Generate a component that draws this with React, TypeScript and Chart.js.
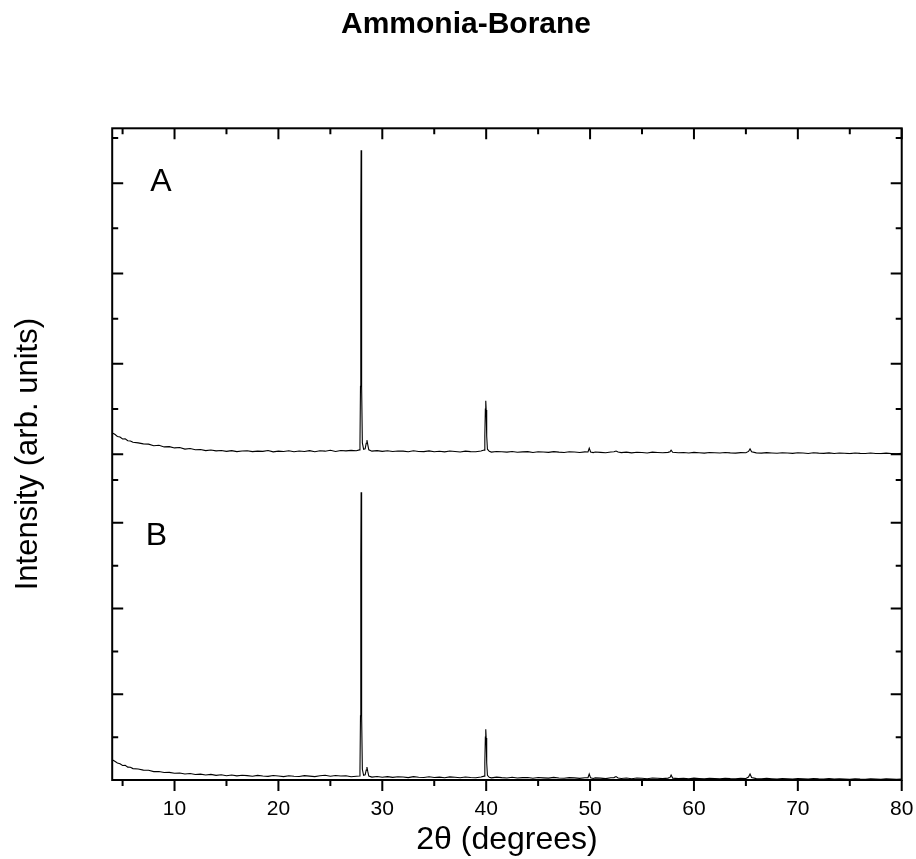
import React, { useEffect, useRef } from "react";
import { Chart, registerables } from "chart.js";

Chart.register(...registerables);

// 2θ angles (degrees) shared by both patterns
const twoTheta = [
  4.0, 4.25, 4.5, 4.75, 5.0, 5.25, 5.5, 5.75, 6.0, 6.5,
  7.0, 7.5, 8.0, 8.5, 9.0, 9.5, 10.0, 10.5, 11.0, 11.5,
  12.0, 12.5, 13.0, 13.5, 14.0, 14.5, 15.0, 15.5, 16.0, 16.5,
  17.0, 17.5, 18.0, 18.5, 19.0, 19.5, 20.0, 20.5, 21.0, 21.5,
  22.0, 22.5, 23.0, 23.5, 24.0, 24.5, 25.0, 25.5, 26.0, 26.5,
  27.0, 27.5, 27.8, 27.85, 27.9, 27.93, 27.96, 27.99, 28.03, 28.08,
  28.2, 28.35, 28.45, 28.52, 28.6, 28.7, 29.0, 29.5, 30.0, 30.5,
  31.0, 31.5, 32.0, 32.5, 33.0, 33.5, 34.0, 34.5, 35.0, 35.5,
  36.0, 36.5, 37.0, 37.5, 38.0, 38.5, 39.0, 39.5, 39.8, 39.87,
  39.92, 39.96, 40.0, 40.05, 40.12, 40.3, 40.5, 41.0, 41.5, 42.0,
  42.5, 43.0, 43.5, 44.0, 44.5, 45.0, 45.5, 46.0, 46.5, 47.0,
  47.5, 48.0, 48.5, 49.0, 49.5, 49.8, 49.92, 50.05, 50.3, 50.5,
  51.0, 51.5, 52.0, 52.3, 52.5, 52.7, 53.0, 53.5, 54.0, 54.5,
  55.0, 55.5, 56.0, 56.5, 57.0, 57.5, 57.7, 57.8, 57.95, 58.5,
  59.0, 59.5, 60.0, 60.5, 61.0, 61.5, 62.0, 62.5, 63.0, 63.5,
  64.0, 64.5, 65.0, 65.25, 65.4, 65.55, 66.0, 66.5, 67.0, 67.5,
  68.0, 68.5, 69.0, 69.5, 70.0, 70.5, 71.0, 71.5, 72.0, 72.5,
  73.0, 73.5, 74.0, 74.5, 75.0, 75.5, 76.0, 76.5, 77.0, 77.5,
  78.0, 78.5, 79.0, 79.5, 80.0,
];

// Pattern A (upper panel), arbitrary units
const intensityA = [
  470, 440, 392, 380, 335, 340, 298, 292, 262, 250,
  228, 222, 186, 196, 160, 166, 138, 146, 112, 126,
  96, 104, 78, 92, 72, 80, 62, 78, 56, 70,
  74, 56, 68, 62, 80, 50, 66, 58, 76, 52,
  70, 60, 78, 52, 74, 66, 86, 58, 80, 72,
  84, 76, 95, 200, 1500, 5200, 6726, 5200, 1500, 250,
  110, 120, 240, 310, 210, 95, 66, 78, 62, 74,
  58, 70, 66, 52, 74, 60, 56, 72, 54, 64,
  50, 70, 60, 48, 66, 56, 52, 68, 90, 420,
  1000, 1180, 980, 400, 110, 62, 46, 60, 52, 44,
  58, 42, 50, 56, 38, 52, 46, 40, 56, 44,
  38, 52, 46, 36, 50, 48, 133, 48, 34, 46,
  40, 30, 48, 52, 70, 46, 34, 44, 28, 42,
  36, 26, 44, 38, 30, 40, 55, 88, 40, 30,
  36, 26, 40, 30, 22, 36, 32, 24, 38, 28,
  22, 34, 30, 60, 117, 55, 28, 22, 34, 26,
  20, 32, 26, 18, 30, 24, 16, 30, 22, 18,
  28, 16, 24, 20, 12, 26, 18, 14, 24, 16,
  12, 22, 16, 10, 18,
];

// Pattern B (lower panel), arbitrary units
const intensityB = [
  470, 438, 396, 378, 338, 344, 300, 296, 266, 256,
  230, 226, 196, 200, 174, 178, 156, 164, 140, 150,
  128, 138, 118, 130, 108, 122, 100, 116, 96, 110,
  102, 86, 108, 92, 84, 104, 94, 80, 100, 88,
  82, 102, 90, 78, 98, 110, 86, 104, 94, 100,
  76, 88, 95, 200, 1500, 5200, 6713, 5200, 1500, 250,
  110, 120, 230, 303, 200, 90, 68, 82, 64, 78,
  62, 76, 70, 56, 78, 64, 58, 74, 60, 68,
  54, 72, 64, 52, 70, 60, 54, 70, 90, 420,
  1000, 1182, 980, 400, 110, 64, 50, 68, 56, 48,
  64, 46, 56, 60, 42, 58, 50, 44, 60, 48,
  40, 56, 50, 38, 54, 52, 140, 50, 36, 50,
  44, 32, 52, 56, 80, 48, 36, 48, 30, 46,
  40, 30, 48, 42, 32, 44, 60, 116, 44, 32,
  40, 30, 44, 34, 26, 40, 36, 28, 42, 32,
  26, 38, 34, 70, 140, 60, 32, 26, 38, 30,
  24, 36, 30, 22, 34, 28, 22, 34, 26, 22,
  32, 20, 28, 24, 18, 30, 22, 18, 28, 22,
  18, 26, 20, 16, 22,
];

const xTickLabels = [10, 20, 30, 40, 50, 60, 70, 80];
const xTickMarks = [5, 10, 15, 20, 25, 30, 35, 40, 45, 50, 55, 60, 65, 70, 75, 80];
const yTickMarksA = [0, 1000, 2000, 3000, 4000, 5000, 6000, 7000];
const yTickMarksB = [0, 1000, 2000, 3000, 4000, 5000, 6000, 7000];

const FONT = '"Liberation Sans", Arial, Helvetica, sans-serif';

const frameTicksPlugin = {
  id: "frameTicks",
  afterDraw(chart: any) {
    const { ctx, chartArea, scales } = chart;
    const { left, right, top, bottom } = chartArea;
    ctx.save();
    ctx.strokeStyle = "#000";
    ctx.lineWidth = 2;
    ctx.strokeRect(left, top, right - left, bottom - top);
    ctx.beginPath();
    for (const v of xTickMarks) {
      const px = scales.x.getPixelForValue(v);
      const len = v % 10 === 0 ? 11 : 6;
      ctx.moveTo(px, bottom);
      ctx.lineTo(px, bottom + len);
      ctx.moveTo(px, top);
      ctx.lineTo(px, top + len);
    }
    const yPairs: [string, number[]][] = [
      ["yA", yTickMarksA],
      ["yB", yTickMarksB],
    ];
    for (const [id, marks] of yPairs) {
      for (const v of marks) {
        const py = scales[id].getPixelForValue(v);
        const len = v % 2000 === 0 ? 11 : 6;
        ctx.moveTo(left, py);
        ctx.lineTo(left + len, py);
        ctx.moveTo(right, py);
        ctx.lineTo(right - len, py);
      }
    }
    ctx.stroke();
    ctx.fillStyle = "#000";
    ctx.font = `32px ${FONT}`;
    ctx.textAlign = "center";
    ctx.textBaseline = "middle";
    ctx.fillText("A", scales.x.getPixelForValue(8.7), scales.yA.getPixelForValue(6030));
    ctx.fillText("B", scales.x.getPixelForValue(8.25), scales.yB.getPixelForValue(5700));
    ctx.restore();
  },
};

export default function App() {
  const ref = useRef<HTMLCanvasElement | null>(null);

  useEffect(() => {
    if (!ref.current) return;
    const chart = new Chart(ref.current, {
      type: "line",
      data: {
        datasets: [
          {
            label: "A",
            data: twoTheta.map((x, i) => ({ x, y: intensityA[i] })),
            yAxisID: "yA",
            borderColor: "#000",
            borderWidth: 1.1,
            pointRadius: 0,
            tension: 0,
            fill: false,
          },
          {
            label: "B",
            data: twoTheta.map((x, i) => ({ x, y: intensityB[i] })),
            yAxisID: "yB",
            borderColor: "#000",
            borderWidth: 1.1,
            pointRadius: 0,
            tension: 0,
            fill: false,
          },
        ],
      },
      options: {
        animation: false,
        responsive: false,
        maintainAspectRatio: false,
        layout: { padding: { left: 16, right: 0, top: 0, bottom: 0 } },
        plugins: {
          legend: { display: false },
          tooltip: { enabled: false },
          title: {
            display: true,
            text: "Ammonia-Borane",
            color: "#000",
            font: { family: FONT, size: 30, weight: "bold" },
            padding: { top: 6.4, bottom: 85.9 },
          },
        },
        scales: {
          x: {
            type: "linear",
            position: "bottom",
            min: 4,
            max: 80,
            afterBuildTicks: (s: any) => {
              s.ticks = xTickLabels.map((v) => ({ value: v }));
            },
            ticks: {
              color: "#000",
              font: { family: FONT, size: 21, lineHeight: 2.55 },
              padding: 2.6,
              maxRotation: 0,
              autoSkip: false,
            },
            grid: { display: false, drawTicks: false },
            border: { display: false },
            title: {
              display: true,
              text: "2θ (degrees)",
              color: "#000",
              font: { family: FONT, size: 32 },
              padding: { top: 0, bottom: 0 },
            },
            afterFit: (s: any) => {
              s.height = 79;
            },
          },
          yTitle: {
            type: "linear",
            position: "left",
            weight: 1,
            min: 0,
            max: 1,
            ticks: { display: false },
            grid: { display: false, drawTicks: false },
            border: { display: false },
            title: {
              display: true,
              text: "Intensity (arb. units)",
              color: "#000",
              font: { family: FONT, size: 31, lineHeight: 0.8 },
              padding: { top: 0, bottom: 0 },
            },
            afterFit: (s: any) => {
              s.width = 44;
            },
          },
          yA: {
            type: "linear",
            position: "left",
            stack: "panels",
            stackWeight: 1,
            weight: 0.5,
            min: 0,
            max: 7214,
            ticks: { display: false },
            grid: { display: false, drawTicks: false },
            border: { display: false },
            afterFit: (s: any) => {
              s.width = 52.2;
            },
          },
          yB: {
            type: "linear",
            position: "left",
            stack: "panels",
            stackWeight: 1,
            weight: 0.4,
            min: 0,
            max: 7603,
            ticks: { display: false },
            grid: { display: false, drawTicks: false },
            border: { display: false },
            afterFit: (s: any) => {
              s.width = 52.2;
            },
          },
        },
      } as any,
      plugins: [frameTicksPlugin],
    });
    return () => chart.destroy();
  }, []);

  return (
    <div style={{ position: "absolute", left: 0, top: 0, width: 916, height: 859 }}>
      <canvas ref={ref} width={916} height={859} style={{ width: 916, height: 859 }} />
    </div>
  );
}
